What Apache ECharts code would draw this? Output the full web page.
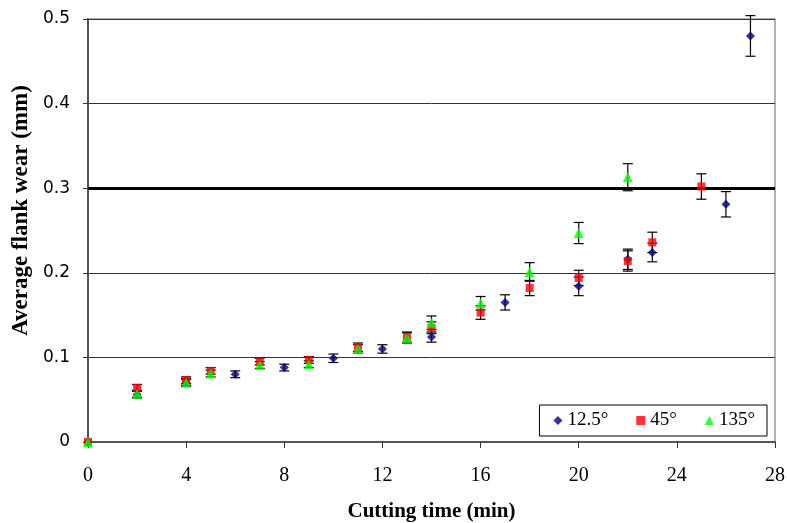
<!DOCTYPE html>
<html>
<head>
<meta charset="utf-8">
<script src="https://cdn.jsdelivr.net/npm/echarts@6/dist/echarts.min.js"></script>
<style>html,body{margin:0;padding:0;background:#fff}#c{width:787px;height:523px}</style>
</head>
<body>
<div id="c"></div>
<script>
// ---- data ----
const seriesNames = ['12.5°', '45°', '135°'];

const xBlue   = [0, 2, 4, 6, 8, 10, 12, 14, 17, 20, 22, 23, 26, 27];
const yBlue   = [0, 0.056, 0.071, 0.080, 0.088, 0.099, 0.110, 0.124, 0.165, 0.184, 0.216, 0.224, 0.281, 0.480];
const eBlue   = [0, 0.004, 0.004, 0.004, 0.004, 0.005, 0.005, 0.006, 0.009, 0.011, 0.012, 0.011, 0.015, 0.024];

const xRed    = [0, 2, 4, 5, 7, 9, 11, 13, 14, 16, 18, 20, 22, 23, 25];
const yRed    = [0, 0.064, 0.073, 0.084, 0.095, 0.097, 0.112, 0.124, 0.135, 0.153, 0.182, 0.194, 0.214, 0.236, 0.302];
const eRed    = [0, 0.004, 0.004, 0.004, 0.004, 0.004, 0.005, 0.006, 0.007, 0.008, 0.009, 0.009, 0.012, 0.012, 0.015];

const xGreen  = [0, 2, 4, 5, 7, 9, 11, 13, 14, 16, 18, 20, 22];
const yGreen  = [0, 0.057, 0.070, 0.081, 0.091, 0.092, 0.110, 0.123, 0.141, 0.164, 0.201, 0.247, 0.313];
const eGreen  = [0, 0.004, 0.004, 0.004, 0.004, 0.004, 0.005, 0.006, 0.008, 0.008, 0.011, 0.0125, 0.016];

const limitWear = 0.3;
const xTicks = [0, 4, 8, 12, 16, 20, 24, 28];
const yTicks = [0, 0.1, 0.2, 0.3, 0.4, 0.5];

// ---- build ----
function pts(xs, ys) { return xs.map((x, i) => [x, ys[i]]); }
function errs(xs, ys, es) { return xs.map((x, i) => [x, ys[i] - es[i], ys[i] + es[i]]); }

function errSeries(data) {
  return {
    type: 'custom',
    data: data,
    z: 3,
    silent: true,
    renderItem: function (params, api) {
      const x = api.value(0), lo = api.value(1), hi = api.value(2);
      if (hi - lo <= 0) return;
      const pLo = api.coord([x, lo]);
      const pHi = api.coord([x, hi]);
      const w = 5;
      const style = { stroke: '#000', lineWidth: 1.2 };
      return {
        type: 'group',
        children: [
          { type: 'line', shape: { x1: pLo[0], y1: pLo[1], x2: pHi[0], y2: pHi[1] }, style: style },
          { type: 'line', shape: { x1: pLo[0] - w, y1: pLo[1], x2: pLo[0] + w, y2: pLo[1] }, style: style },
          { type: 'line', shape: { x1: pHi[0] - w, y1: pHi[1], x2: pHi[0] + w, y2: pHi[1] }, style: style }
        ]
      };
    }
  };
}

const serif = 'Liberation Serif';
const chart = echarts.init(document.getElementById('c'));
chart.setOption({
  animation: false,
  backgroundColor: '#fff',
  grid: { left: 88, right: 12, top: 19, bottom: 81, containLabel: false, outerBoundsMode: 'none',
          show: true, borderColor: '#999', borderWidth: 1.5 },
  legend: {
    data: [
      { name: seriesNames[0], icon: 'diamond' },
      { name: seriesNames[1], icon: 'rect' },
      { name: seriesNames[2], icon: 'triangle' }
    ],
    right: 20, top: 405,
    itemWidth: 9, itemHeight: 9, itemGap: 28,
    padding: [6, 12, 6, 14],
    borderColor: '#000', borderWidth: 1, backgroundColor: '#fff',
    textStyle: { fontFamily: serif, fontSize: 19, color: '#000' }
  },
  xAxis: {
    type: 'value', min: 0, max: 28, interval: 4,
    name: 'Cutting time (min)', nameLocation: 'middle', nameGap: 59,
    nameTextStyle: { fontFamily: serif, fontSize: 21, fontWeight: 'bold', color: '#000' },
    axisLine: { lineStyle: { color: '#555', width: 2 } },
    axisTick: { show: true, length: 6, lineStyle: { color: '#333' } },
    axisLabel: { fontFamily: serif, fontSize: 20, color: '#000', margin: 24,
      formatter: v => xTicks.indexOf(v) >= 0 ? String(v) : '' },
    splitLine: { show: false }
  },
  yAxis: {
    type: 'value', min: 0, max: 0.5, interval: 0.1,
    name: 'Average flank wear (mm)', nameLocation: 'middle', nameGap: 55,
    nameTextStyle: { fontFamily: serif, fontSize: 23, fontWeight: 'bold', color: '#000', padding: [0, 0, 0, 40] },
    axisLine: { show: true, lineStyle: { color: '#555', width: 2 } },
    axisTick: { show: true, length: 5, lineStyle: { color: '#333' } },
    axisLabel: { fontFamily: 'DejaVu Sans', fontSize: 17, color: '#000', margin: 18,
      formatter: v => { const t = yTicks.find(k => Math.abs(k - v) < 1e-9); return t === undefined ? '' : (t === 0 ? '0' : t.toFixed(1)); } },
    splitLine: { show: true, lineStyle: { color: '#333', width: 1 } }
  },
  series: [
    errSeries(errs(xBlue, yBlue, eBlue)),
    errSeries(errs(xRed, yRed, eRed)),
    errSeries(errs(xGreen, yGreen, eGreen)),
    {
      name: seriesNames[0], type: 'scatter', symbol: 'diamond', symbolSize: 9,
      itemStyle: { color: '#000080' }, z: 4, data: pts(xBlue, yBlue),
      markLine: {
        silent: true, symbol: 'none', label: { show: false },
        lineStyle: { color: '#000', width: 3, type: 'solid' },
        data: [{ yAxis: limitWear }]
      }
    },
    { name: seriesNames[1], type: 'scatter', symbol: 'rect', symbolSize: 8,
      itemStyle: { color: '#ff0000' }, z: 5, data: pts(xRed, yRed) },
    { name: seriesNames[2], type: 'scatter', symbol: 'triangle', symbolSize: 10,
      itemStyle: { color: '#00ff00' }, z: 6, data: pts(xGreen, yGreen) }
  ]
});
</script>
</body>
</html>
